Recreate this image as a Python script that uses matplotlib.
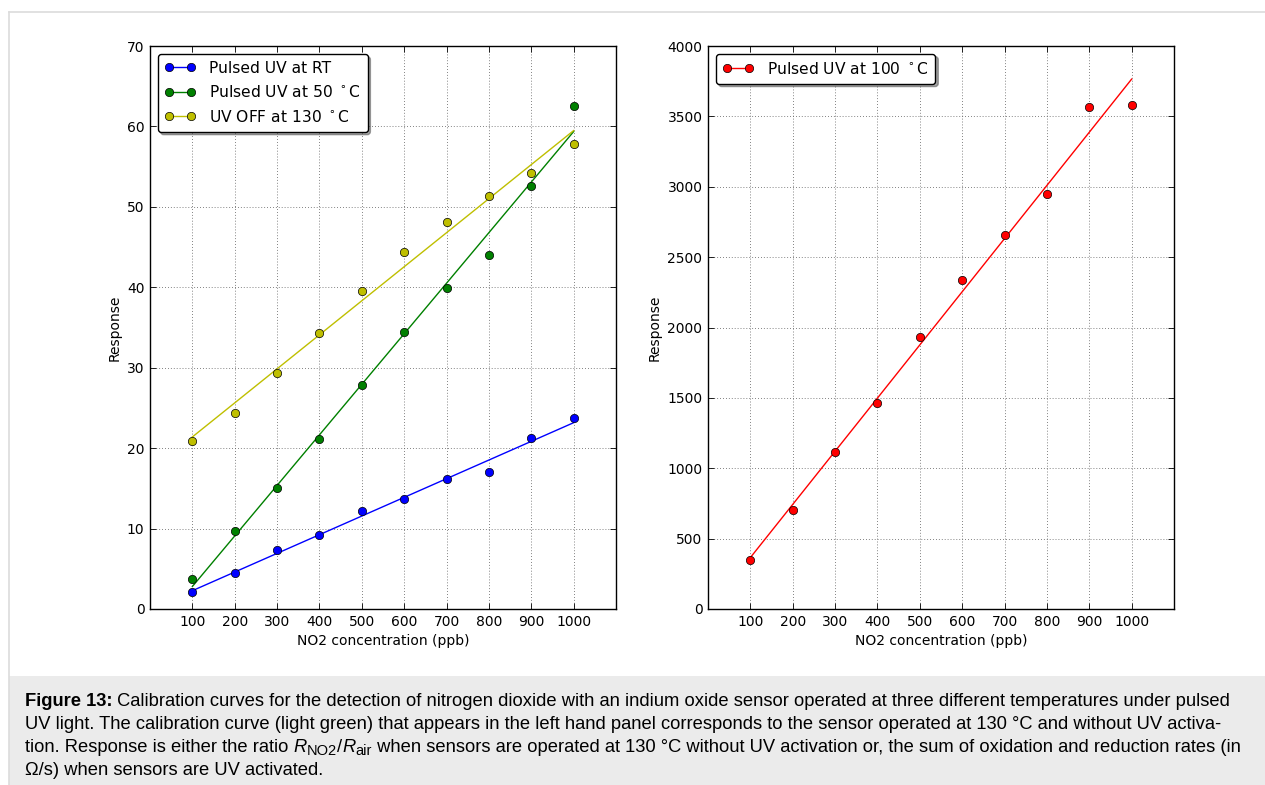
import numpy as np
import matplotlib
matplotlib.use('Agg')
import matplotlib.pyplot as plt
from matplotlib.lines import Line2D
from matplotlib.patches import Rectangle
from matplotlib.text import Annotation

W, H = 1265, 785

# NO2 concentration (ppb)
conc = [100, 200, 300, 400, 500, 600, 700, 800, 900, 1000]

# left panel responses
uv_rt = [2.1, 4.5, 7.3, 9.2, 12.2, 13.7, 16.2, 17.0, 21.3, 23.7]
uv_50 = [3.7, 9.7, 15.1, 21.1, 27.8, 34.4, 39.9, 44.0, 52.6, 62.5]
uv_off_130 = [20.9, 24.4, 29.3, 34.3, 39.5, 44.4, 48.1, 51.4, 54.25, 57.85]

# right panel response
uv_100 = [348, 701, 1113, 1461, 1935, 2340, 2655, 2951, 3569, 3578]

left_labels = ['Pulsed UV at RT', r'Pulsed UV at 50 $^\circ$C', r'UV OFF at 130 $^\circ$C']
left_colors = ['b', 'g', 'y']
right_label = r'Pulsed UV at 100 $^\circ$C'
xticks = [100, 200, 300, 400, 500, 600, 700, 800, 900, 1000]

TICK_SIZE = 10
LEGEND_SIZE = 11.2
CAPTION_SIZE = 13.2
SUB_SIZE = 10.5


def style_axes(ax, ymax, ystep):
    ax.set_xlim(0, 1100)
    ax.set_ylim(0, ymax)
    ax.set_xticks(xticks)
    ax.set_yticks(np.arange(0, ymax + 1, ystep))
    ax.tick_params(direction='in', top=True, right=True, length=4, width=0.6,
                   labelsize=TICK_SIZE, pad=4)
    ax.grid(True, color='0.35', linestyle=(0, (1, 2.5)), linewidth=0.6)
    ax.set_axisbelow(True)
    for sp in ax.spines.values():
        sp.set_linewidth(1.0)
    ax.set_xlabel('NO2 concentration (ppb)', fontsize=TICK_SIZE)
    ax.set_ylabel('Response', fontsize=TICK_SIZE)


def plot_series(ax, y, color):
    slope, icpt = np.polyfit(conc, y, 1)
    fit = np.polyval([slope, icpt], conc)
    ax.plot(conc, fit, color=color, linewidth=1.0, zorder=2)
    ax.plot(conc, y, 'o', color=color, markersize=6, markeredgecolor='k',
            markeredgewidth=0.5, zorder=3)
    return Line2D([], [], color=color, marker='o', markersize=6, markeredgecolor='k',
                  markeredgewidth=0.5, linewidth=1.0)


def add_legend(ax, handles, labels):
    leg = ax.legend(handles, labels, loc='upper left', numpoints=2, fontsize=LEGEND_SIZE,
                    handlelength=2.0, handletextpad=0.85, borderpad=0.45, labelspacing=0.55,
                    borderaxespad=0.5, fancybox=True, shadow=True, framealpha=1)
    leg.get_frame().set_edgecolor('k')
    leg.get_frame().set_linewidth(1.0)


def caption_line(fig, pieces, base_px):
    # chain text pieces along one baseline: (text, size, style, weight, drop_px)
    y = 1 - base_px / H
    prev = None
    for text, size, style, weight, drop in pieces:
        yy = y - drop / H
        kw = dict(fontsize=size, family='Liberation Sans', style=style, weight=weight,
                  va='baseline')
        if prev is None:
            prev = fig.text(25 / W, yy, text, **kw)
        else:
            prev = fig.add_artist(Annotation(text, xy=(1, yy), xycoords=(prev, 'figure fraction'),
                                             ha='left', **kw))


fig = plt.figure(figsize=(W / 100, H / 100), dpi=100)
fig.patch.set_facecolor('white')

# outer border and caption box
fig.add_artist(Line2D([9 / W, 1], [1 - 12 / H, 1 - 12 / H], transform=fig.transFigure,
                      color='#dcdcdc', linewidth=1.2))
fig.add_artist(Line2D([9 / W, 9 / W], [0, 1 - 12 / H], transform=fig.transFigure,
                      color='#dcdcdc', linewidth=1.2))
fig.add_artist(Rectangle((9 / W, 0), 1 - 9 / W, 109 / H, transform=fig.transFigure,
                         facecolor='#ebebeb', edgecolor='none'))

ax_l = fig.add_axes([150 / W, 1 - 609 / H, 466 / W, 563 / H])
ax_r = fig.add_axes([708 / W, 1 - 609 / H, 466 / W, 563 / H])

style_axes(ax_l, 70, 10)
style_axes(ax_r, 4000, 500)

handles = [plot_series(ax_l, y, c) for y, c in zip([uv_rt, uv_50, uv_off_130], left_colors)]
add_legend(ax_l, handles, left_labels)

h_r = plot_series(ax_r, uv_100, 'r')
add_legend(ax_r, [h_r], [right_label])

# caption
C = CAPTION_SIZE
caption_line(fig, [
    ('Figure 13:', C, 'normal', 'bold', 0),
    (' Calibration curves for the detection of nitrogen dioxide with an indium oxide sensor '
     'operated at three different temperatures under pulsed', C, 'normal', 'normal', 0),
], 706)
caption_line(fig, [
    ('UV light. The calibration curve (light green) that appears in the left hand panel corresponds '
     'to the sensor operated at 130 °C and without UV activa-', C, 'normal', 'normal', 0),
], 729)
caption_line(fig, [
    ('tion. Response is either the ratio ', C, 'normal', 'normal', 0),
    ('R', C, 'italic', 'normal', 0),
    ('NO2', SUB_SIZE, 'normal', 'normal', 3),
    ('/', C, 'normal', 'normal', 0),
    ('R', C, 'italic', 'normal', 0),
    ('air', SUB_SIZE, 'normal', 'normal', 3),
    (' when sensors are operated at 130 °C without UV activation or, the sum of oxidation and '
     'reduction rates (in', C, 'normal', 'normal', 0),
], 752.3)
caption_line(fig, [
    ('Ω/s) when sensors are UV activated.', C, 'normal', 'normal', 0),
], 775.3)

fig.savefig('out.png', dpi=100)
